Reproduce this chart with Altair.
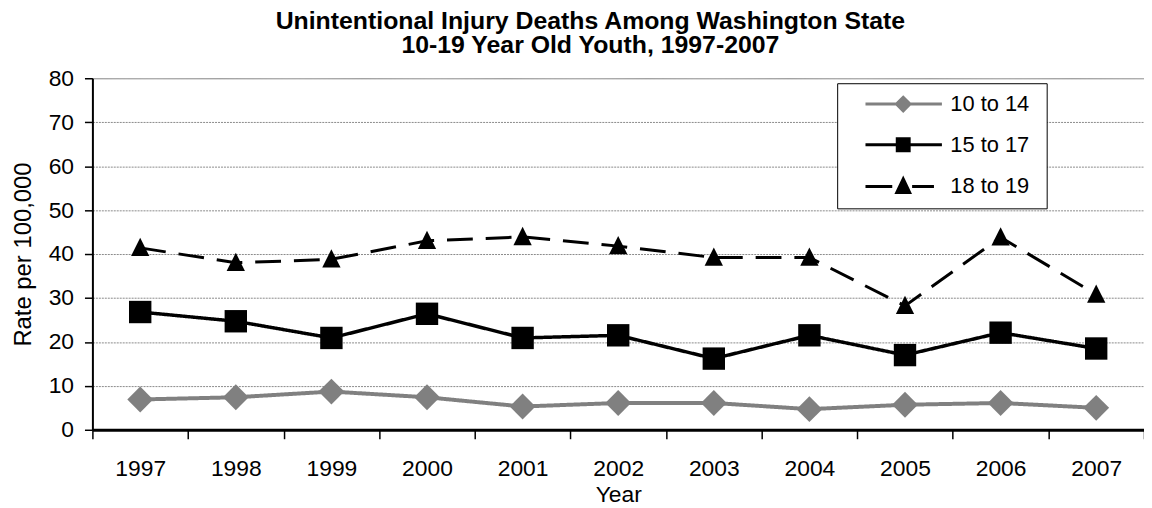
import altair as alt
import pandas as pd

years = ["1997", "1998", "1999", "2000", "2001", "2002", "2003", "2004", "2005", "2006", "2007"]
series_names = ["10 to 14", "15 to 17", "18 to 19"]
rate_10_14 = [6.9, 7.4, 8.7, 7.4, 5.3, 6.1, 6.1, 4.7, 5.7, 6.1, 5.0]
rate_15_17 = [26.8, 24.7, 20.9, 26.4, 20.9, 21.5, 16.2, 21.5, 17.0, 22.1, 18.5]
rate_18_19 = [41.4, 38.0, 38.8, 43.0, 43.9, 41.8, 39.2, 39.2, 28.2, 43.8, 30.8]
y_ticks = [0, 10, 20, 30, 40, 50, 60, 70, 80]

rows = []
for name, vals in zip(series_names, [rate_10_14, rate_15_17, rate_18_19]):
    for yr, v in zip(years, vals):
        rows.append({"year": yr, "series": name, "value": v})
df = pd.DataFrame(rows)

FONT = "Liberation Sans"
colors = ["#808080", "#000000", "#000000"]

def color_scale():
    return alt.Scale(domain=series_names, range=colors)

x_enc = alt.X(
    "year:O",
    scale=alt.Scale(paddingInner=0, paddingOuter=0),
    title="Year",
    axis=alt.Axis(
        labelAngle=0, domainColor="black", domainWidth=3, tickColor="black",
        tickWidth=1.5, tickSize=9, tickBand="extent", labelPadding=19,
        labelFontSize=23, labelFont=FONT, labelColor="black",
        titleFontSize=23, titleFont=FONT, titleFontWeight="normal",
        titleColor="black", titlePadding=3, grid=False,
    ),
)
y_enc = alt.Y(
    "value:Q",
    scale=alt.Scale(domain=[0, 80], nice=False),
    title="Rate per 100,000",
    axis=alt.Axis(
        values=y_ticks, domainColor="black", domainWidth=2, tickColor="black",
        tickWidth=1.5, tickSize=8, labelPadding=11, labelFontSize=23,
        labelFont=FONT, labelColor="black", titleFontSize=24, titleFont=FONT,
        titleFontWeight="normal", titleColor="black", titlePadding=13,
        grid=True, gridColor="#8a8a8a", gridWidth=1,
        gridDash={"condition": {"test": "datum.value === 80", "value": [1, 0]}, "value": [2, 1]},
    ),
)

base = alt.Chart(df)

lines = base.mark_line().encode(
    x=x_enc,
    y=y_enc,
    color=alt.Color("series:N", scale=color_scale(), legend=None),
    strokeDash=alt.StrokeDash("series:N", scale=alt.Scale(domain=series_names, range=[[1, 0], [1, 0], [26, 13]]), legend=None),
    strokeWidth=alt.StrokeWidth("series:N", scale=alt.Scale(domain=series_names, range=[4, 3, 4]), legend=None),
)

points = base.mark_point(filled=True, opacity=1).encode(
    x=x_enc,
    y=y_enc,
    color=alt.Color("series:N", scale=color_scale(), legend=None),
    shape=alt.Shape("series:N", scale=alt.Scale(domain=series_names, range=["diamond", "square", "M0,-1.1L1,0.9L-1,0.9Z"]), legend=None),
    size=alt.Size("series:N", scale=alt.Scale(domain=series_names, range=[676, 340, 400]), legend=None),
)

legend_paths = [
    "M0.94,0H10.56M5.69,-0.85L6.54,0L5.69,0.85L4.84,0ZM21.7,0",
    "M0.94,0H10.56M4.94,-0.75H6.44V0.75H4.94ZM21.7,0",
    "M0.94,0H4.31M6.81,0H9.56M5.69,-0.95L6.5,0.75L4.88,0.75ZM21.7,0",
]

leg = alt.Legend(
    title=None, orient="none", legendX=750, legendY=5,
    symbolSize=256, symbolStrokeWidth=3, labelFontSize=22,
    labelFont=FONT, labelColor="black", labelOffset=82,
    rowPadding=16, padding=10, strokeColor="black", fillColor="white",
)

legend_layer = base.transform_filter("false").mark_point(filled=False, opacity=1).encode(
    shape=alt.Shape("series:N", scale=alt.Scale(domain=series_names, range=legend_paths), legend=leg),
    fill=alt.Fill("series:N", scale=color_scale(), legend=leg),
    stroke=alt.Stroke("series:N", scale=color_scale(), legend=leg),
)

chart = (
    alt.layer(lines, points, legend_layer)
    .resolve_scale(shape="independent", color="independent", fill="independent", stroke="independent")
    .properties(
        width=1059,
        height=354,
        autosize=alt.AutoSizeParams(type="none"),
        padding={"left": 85, "top": 69, "right": 0, "bottom": 76},
        title=alt.TitleParams(
            text=["Unintentional Injury Deaths Among Washington State", "10-19 Year Old Youth, 1997-2007"],
            fontSize=25, fontWeight="bold", font=FONT, color="black",
            anchor="middle", frame="group", dx=-28, offset=9, lineHeight=25,
        ),
    )
    .configure_view(stroke=None)
    .configure(background="white")
)

chart.save("out.html", embed_options={"renderer": "svg", "actions": False})
